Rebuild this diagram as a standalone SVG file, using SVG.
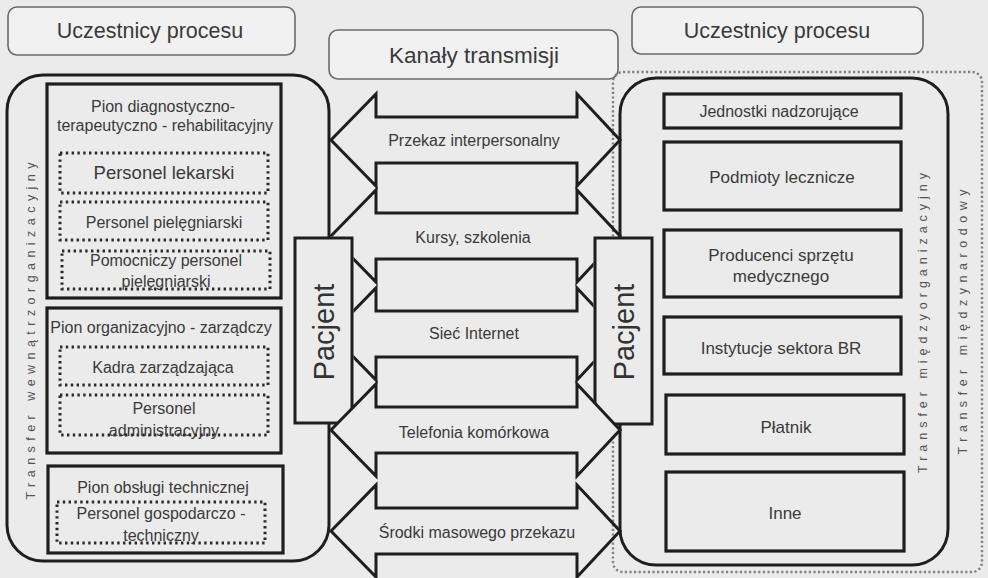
<svg xmlns="http://www.w3.org/2000/svg" width="988" height="578" viewBox="0 0 988 578">
<defs>
<style>
text{font-family:"Liberation Sans",Arial,sans-serif;fill:#3a3a3a;text-anchor:middle;dominant-baseline:central}
.hdr{fill:#f1f1f1;stroke:#6a6a6a;stroke-width:1.6}
.hdrt{font-size:21.5px}
.hdrk{font-size:22.5px}
.cont{fill:none;stroke:#1e1e1e;stroke-width:3}
.box{fill:none;stroke:#1e1e1e;stroke-width:3.2}
.dot{fill:none;stroke:#2a2a2a;stroke-width:3;stroke-dasharray:2.4 3.4}
.outer{fill:none;stroke:#808080;stroke-width:2.4;stroke-dasharray:2.2 2.4}
.t16{font-size:16px}
.t17{font-size:17px}
.t18{font-size:18.5px}
.vt{font-size:12.5px;fill:#555;dominant-baseline:alphabetic}
.pac{fill:#ebebeb;stroke:#1e1e1e;stroke-width:3}
.pact{font-size:29px;fill:#333;dominant-baseline:alphabetic}
.arr{fill:none;stroke:#1e1e1e;stroke-width:3;stroke-linejoin:miter}
.arrf{fill:#ebebeb;stroke:#1e1e1e;stroke-width:3;stroke-linejoin:miter}
.at{font-size:16px}
</style>
<clipPath id="noPac">
<path clip-rule="evenodd" d="M0,0H988V578H0Z M293.5,236.5H353.5V424.5H293.5Z M593.5,236.5H653.5V425.5H593.5Z"/>
</clipPath>
</defs>
<rect x="0" y="0" width="988" height="578" fill="#ebebeb"/>

<g id="header-left">
<rect class="hdr" x="8" y="7" width="287" height="48" rx="9"/>
<text class="hdrt" x="150" y="31">Uczestnicy procesu</text>
</g>
<g id="header-middle">
<rect class="hdr" x="329" y="30" width="289" height="49" rx="9"/>
<text class="hdrk" x="474" y="55">Kanały transmisji</text>
</g>
<g id="header-right">
<rect class="hdr" x="632" y="7" width="291" height="47" rx="9"/>
<text class="hdrt" x="777" y="31">Uczestnicy procesu</text>
</g>

<g id="left-container">
<rect class="cont" x="7" y="75" width="322" height="486" rx="36"/>
<text class="vt" transform="translate(35,331) rotate(-90)" x="0" y="0" textLength="337" lengthAdjust="spacing">Transfer wewnątrzorganizacyjny</text>
</g>

<g id="pion-diagnostyczny">
<rect class="box" x="47" y="84" width="234" height="214"/>
<text class="t16" x="163" y="106">Pion diagnostyczno-</text>
<text class="t16" x="165" y="125">terapeutyczno - rehabilitacyjny</text>
</g>
<g id="personel-lekarski">
<rect class="dot" x="60" y="153" width="208" height="40"/>
<text class="t18" x="164" y="172">Personel lekarski</text>
</g>
<g id="personel-pielegniarski">
<rect class="dot" x="60" y="202" width="208" height="38"/>
<text class="t16" x="164" y="222">Personel pielęgniarski</text>
</g>
<g id="pomocniczy-personel">
<rect class="dot" x="62" y="251" width="208" height="38"/>
<text class="t16" x="166" y="260">Pomocniczy personel</text>
<text class="t16" x="166" y="281">pielęgniarski</text>
</g>

<g id="pion-organizacyjny">
<rect class="box" x="47" y="308" width="234" height="145"/>
<text class="t16" x="161" y="327">Pion organizacyjno - zarządczy</text>
</g>
<g id="kadra-zarzadzajaca">
<rect class="dot" x="60" y="347" width="208" height="38"/>
<text class="t16" x="163" y="367">Kadra zarządzająca</text>
</g>
<g id="personel-administracyjny">
<rect class="dot" x="60" y="395" width="208" height="40"/>
<text class="t16" x="164" y="408">Personel</text>
<text class="t16" x="164" y="430">administracyjny</text>
</g>

<g id="pion-techniczny">
<rect class="box" x="48" y="466" width="235" height="87"/>
<text class="t16" x="163" y="487">Pion obsługi technicznej</text>
</g>
<g id="personel-gospodarczy">
<rect class="dot" x="57" y="502" width="208" height="41"/>
<text class="t16" x="161" y="513">Personel gospodarczo -</text>
<text class="t16" x="161" y="535">techniczny</text>
</g>

<g id="right-outer-container">
<rect class="outer" x="613" y="72" width="369" height="500" rx="10"/>
<text class="vt" transform="translate(967,322) rotate(-90)" x="0" y="0" textLength="265" lengthAdjust="spacing">Transfer międzynarodowy</text>
</g>
<g id="right-container">
<rect class="cont" x="620" y="78" width="328" height="487" rx="36"/>
<text class="vt" transform="translate(927,323) rotate(-90)" x="0" y="0" textLength="300" lengthAdjust="spacing">Transfer międzyorganizacyjny</text>
</g>

<g id="jednostki-nadzorujace">
<rect class="box" x="664" y="94" width="237" height="34"/>
<text class="t16" x="779" y="111">Jednostki nadzorujące</text>
</g>
<g id="podmioty-lecznicze">
<rect class="box" x="664" y="142" width="237" height="68"/>
<text class="t17" x="782" y="177">Podmioty lecznicze</text>
</g>
<g id="producenci-sprzetu">
<rect class="box" x="664" y="230" width="237" height="67"/>
<text class="t17" x="781" y="255">Producenci sprzętu</text>
<text class="t17" x="781" y="276">medycznego</text>
</g>
<g id="instytucje-br">
<rect class="box" x="664" y="317" width="237" height="57"/>
<text class="t17" x="781" y="348">Instytucje sektora BR</text>
</g>
<g id="platnik">
<rect class="box" x="666" y="395" width="238" height="59"/>
<text class="t17" x="786" y="427">Płatnik</text>
</g>
<g id="inne">
<rect class="box" x="666" y="472" width="238" height="79"/>
<text class="t17" x="785" y="513">Inne</text>
</g>

<g id="pacjent-left">
<rect class="pac" x="295" y="238" width="57" height="185"/>
<text class="pact" transform="translate(334,332) rotate(-90)" x="0" y="0">Pacjent</text>
</g>
<g id="pacjent-right">
<rect class="pac" x="595" y="238" width="57" height="186"/>
<text class="pact" transform="translate(634,332) rotate(-90)" x="0" y="0">Pacjent</text>
</g>

<g id="connectors">
<polygon class="arr" points="331,140 376,94 376,117 577,117 577,94 620,140 577,186 577,163 376,163 376,186"/>
<polygon class="arr" clip-path="url(#noPac)" points="331,236 376,190 376,213 577,213 577,190 620,236 577,282 577,259 376,259 376,282"/>
<polygon class="arr" clip-path="url(#noPac)" points="331,334 376,288 376,311 577,311 577,288 620,334 577,380 577,357 376,357 376,380"/>
<polygon class="arrf" points="331,430 376,384 376,407 577,407 577,384 620,430 577,476 577,453 376,453 376,476"/>
<polygon class="arr" points="331,531 376,485 376,508 577,508 577,485 620,531 577,577 577,554 376,554 376,577"/>
<text class="at" x="474" y="140">Przekaz interpersonalny</text>
<text class="at" x="473" y="237">Kursy, szkolenia</text>
<text class="at" x="474" y="333">Sieć Internet</text>
<text class="at" x="474" y="432">Telefonia komórkowa</text>
<text class="at" x="477" y="532">Środki  masowego przekazu</text>
</g>
</svg>
